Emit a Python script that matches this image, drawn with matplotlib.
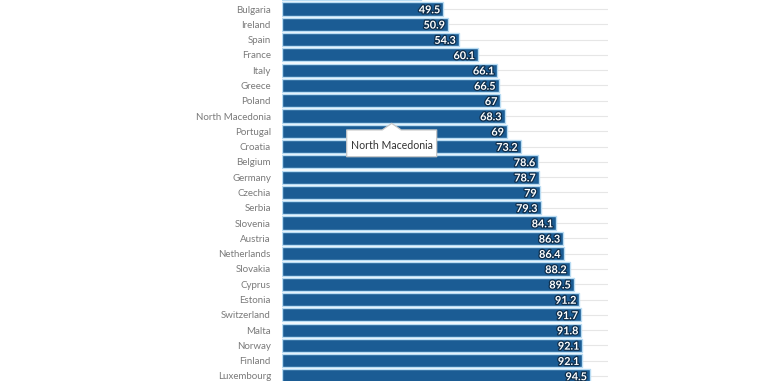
import matplotlib
matplotlib.use("Agg")
import matplotlib.pyplot as plt
import matplotlib.patheffects as pe
from matplotlib.patches import Polygon

countries = ["", "Bulgaria", "Ireland", "Spain", "France", "Italy", "Greece", "Poland",
             "North Macedonia", "Portugal", "Croatia", "Belgium", "Germany", "Czechia",
             "Serbia", "Slovenia", "Austria", "Netherlands", "Slovakia", "Cyprus",
             "Estonia", "Switzerland", "Malta", "Norway", "Finland", "Luxembourg"]
values = [42.5, 49.5, 50.9, 54.3, 60.1, 66.1, 66.5, 67, 68.3, 69, 73.2, 78.6, 78.7, 79,
          79.3, 84.1, 86.3, 86.4, 88.2, 89.5, 91.2, 91.7, 91.8, 92.1, 92.1, 94.5]
labels = ["", "49.5", "50.9", "54.3", "60.1", "66.1", "66.5", "67", "68.3", "69", "73.2",
          "78.6", "78.7", "79", "79.3", "84.1", "86.3", "86.4", "88.2", "89.5", "91.2",
          "91.7", "91.8", "92.1", "92.1", "94.5"]

bar_color = "#1b5c94"
edge_color = "#b9dcf3"
plt.rcParams['font.family'] = ['Lato', 'DejaVu Sans']

fig = plt.figure(figsize=(7.68, 3.81), dpi=100)
# rows: Bulgaria (row 1) centre at 9px, 15.29px per row; bars start at x=282px
row_h = 15.29
top_row = 1 - 9 / row_h
bottom_row = top_row + 381 / row_h
ax = fig.add_axes([282 / 768, 0, 326 / 768, 1])

pos = list(range(len(values)))
# light category lines
for p in pos:
    ax.axhline(p, color="#e6e6e6", lw=0.8, zorder=0)
ax.barh(pos, values, height=0.86, color=bar_color, edgecolor=edge_color,
        linewidth=1.0, zorder=2)

for p, v, t in zip(pos, values, labels):
    if t:
        ax.text(v - 0.9, p + 0.05, t, ha="right", va="center", color="white",
                fontsize=7.8, fontweight="bold", zorder=3,
                path_effects=[pe.withStroke(linewidth=1.8, foreground="#0f2f4d")])

ax.set_yticks(pos)
ax.set_yticklabels(countries, fontsize=7.0, color="#7a7a7a")
ax.tick_params(axis="y", length=0, pad=8)
ax.set_xticks([])
for s in ax.spines.values():
    s.set_visible(False)

# tooltip (box with pointer), in data units
bx0, bx1 = 19.85, 47.45
by0, by1 = 8.91, 10.66
ax_, ay_ = 33.65, 8.48
hw = 2.9
tip = Polygon([(bx0, by0), (ax_ - hw, by0), (ax_, ay_), (ax_ + hw, by0), (bx1, by0),
               (bx1, by1), (bx0, by1)], closed=True, fc="white", ec="#c8c8c8",
              lw=0.9, zorder=5, joinstyle="round")
ax.add_patch(tip)
ax.text((bx0 + bx1) / 2, 9.96, "North Macedonia", ha="center", va="center",
        fontsize=7.6, color="#333333", zorder=6)

ax.set_xlim(0, 100)
ax.set_ylim(bottom_row, top_row)

fig.savefig("out.png", dpi=100)
